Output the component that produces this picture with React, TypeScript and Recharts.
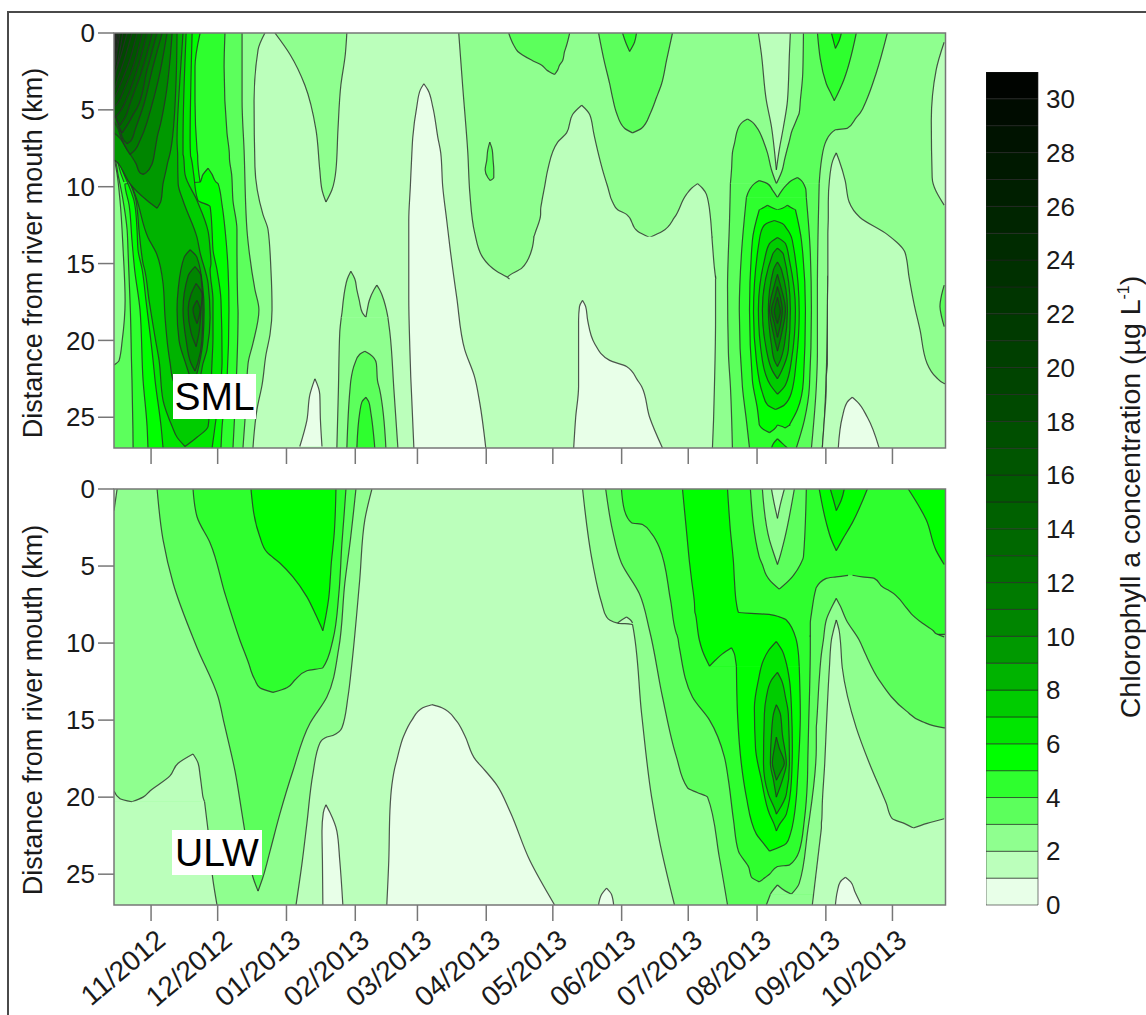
// App.tsx - chlorophyll a contour panels (SML / ULW) drawn as range areas
import React from 'react';
import { AreaChart, Area, BarChart, Bar, XAxis, YAxis, ReferenceArea } from 'recharts';

type Row = [number, number, number]; // km from river mouth, left day, right day
type Layer = [number, Row[]]; // chlorophyll band, outline rows

// colour of each 1 ug/L band, 0-1 first
const bandColors = [
  '#E8FFE8', '#BBFFBB', '#8FFF8F', '#5CFF5C', '#2EFF2E', '#00FF00', '#00E600', '#00CC00',
  '#00B300', '#009900', '#008500', '#007A00', '#007000', '#006800', '#006100', '#005B00',
  '#005500', '#004F00', '#004900', '#004400', '#003F00', '#003A00', '#003500', '#003000',
  '#002B00', '#002500', '#001F00', '#001900', '#001300', '#000C00', '#000400',
];

// days since 1 Nov 2012
const monthDays = [0, 30, 61, 92, 120, 151, 181, 212, 242, 273, 304, 334];
const monthLabels = ['11/2012', '12/2012', '01/2013', '02/2013', '03/2013', '04/2013', '05/2013', '06/2013', '07/2013', '08/2013', '09/2013', '10/2013'];
const kmTicks = [0, 5, 10, 15, 20, 25];
const scaleTicks = [0, 2, 4, 6, 8, 10, 12, 14, 16, 18, 20, 22, 24, 26, 28, 30];

const W = -30; // past the left edge
const E = 380; // past the right edge

const wholePanel: Row[] = [[0, W, E], [27, W, E]];

// ---- SML panel ----
const smlLeft2: Row[] = [[0, W, 51.3], [1.1, W, 48.2], [4.4, W, 46.4], [8.7, W, 46.8], [11.8, W, 50.4], [12.8, W, 52.7], [15.4, W, 54], [18, W, 54.5], [19.6, W, 53.6], [20.9, W, 51.8], [22.9, W, 50], [24.5, W, 47.7], [27, W, 45.9]];
const smlWedge2: Row[] = [[0, 55.8, 88.2], [1.4, 62.6, 87.5], [3.4, 69.3, 85.5], [6.3, 74.3, 84.2], [8.9, 76, 83.3], [10.2, 77, 81.5], [11, 78.8, 78.8]];
const smlLeft3: Row[] = [[0, W, 41], [4.4, W, 41], [7.6, W, 41.9], [12.8, W, 43.2], [14.1, W, 44.1], [16.7, W, 46.8], [18, W, 48.6], [20.2, W, 45.9], [21.5, W, 43.7], [25.2, W, 42.3], [27, W, 41.4]];
const smlPatch2: Row[] = [[8.1, W, -16.7], [9.2, W, -15.3], [10.9, W, -14], [14.1, W, -12.6], [17.4, W, -11.7], [20, W, -13], [21.3, W, -14.4], [21.6, W, -16.7]];
const smlLeft4: Row[] = [[0, W, 33.3], [2.2, W, 32.9], [6.5, W, 34.2], [8, W, 35.3], [8.1, -16.5, 35.3], [9.2, -14.9, 36.3], [10.9, -12.6, 36.9], [12.8, -10.8, 38.7], [14.1, -10.4, 38.7], [17.4, -9.5, 39], [18.2, -9.3, 39.2], [21.5, -8.8, 38.7], [22.6, -8.6, 38.4], [25.6, -8.2, 37.4], [27, -8.1, 36.9]];
const smlLeft5: Row[] = [[0, W, 22.1], [2.2, W, 19.8], [4.4, W, 19.8], [7.6, W, 20.7], [8, W, 21], [8.1, -16.2, 21], [9.2, -13.5, 21.6], [9.7, -12.2, 22.1]];
const smlLower5: Row[] = [[8.8, 25.7, 25.7], [9.2, 23.4, 27.5], [9.7, 22.1, 29.3], [9.8, -11.8, 30.2], [11.2, -9.9, 32], [13.5, -8.6, 33.8], [15.4, -7.4, 34.7], [18, -5, 35.1], [22.6, -3.6, 34.2], [25.6, -1.8, 32], [27, -1.4, 31.5]];
const smlLeft6: Row[] = [[0, W, 18.5], [7, W, 17.6], [8, W, 17.8], [8.1, -16, 18], [9.2, -12.2, 19.2], [10.7, -8.1, 20.7], [10.9, -7.7, 21.2], [11.3, -7.2, 26.6], [12.9, -6.3, 27.5], [14.1, -5.9, 27.9], [15.4, -4, 29.7], [17.4, -2.3, 31.5], [21.3, 0.9, 32], [22.6, 1.8, 31.5], [25.6, 4.5, 28.8], [27, 5.4, 27.5]];
const smlLeft7: Row[] = [[0, W, 15.8], [7, W, 14.4], [7.9, W, 14.4], [8, -15.8, 14.6], [9.2, -11.3, 15.3], [10.9, -6.8, 20.7], [12.9, -5.4, 25.7], [14.1, -4.5, 26.6], [15, -3.6, 27], [15.4, -2.9, 26.6], [17.4, -0.9, 27.9], [19.8, 1.8, 27.9], [21.3, 3.6, 27.5], [23.9, 5.4, 26.6], [25.6, 9.5, 25.7], [26.3, 11.7, 20.7], [26.9, 15.3, 15.3]];
const smlLeft8: Row[] = [[0, W, 14.4], [3, W, 13], [7, W, 11.7], [8, W, 12], [8.3, -14, 12], [9.8, -9, 12.2], [10.9, -6.3, 14.4], [13.3, -1.4, 20.7], [14.3, 2.3, 22.1], [16.3, 5.4, 25.7], [18.5, 6.3, 26.6], [20.6, 7.7, 25.2], [21.5, 8.6, 23.4], [22.6, 9.9, 21.6], [23.5, 17.6, 17.6]];
const smlLeft9: Row[] = [[0, W, 11.7], [3, W, 11.3], [7, W, 9.5], [8.1, W, 8.1], [8.3, -16.2, 7.7], [8.9, -13, 6.8], [9.8, -9.5, 5.4], [10.9, -1.8, 4.5], [11.4, 2.7, 2.7]];
const smlRing9: Row[] = [[14.1, 17.6, 17.6], [14.6, 14.9, 20.7], [16.7, 12.2, 23.4], [18, 11.7, 23.9], [20, 12.6, 23.4], [21.6, 15.8, 21.6], [23, 19, 19]];
const smlRing10: Row[] = [[15.2, 19.8, 19.8], [15.8, 16.7, 22.5], [18, 14.4, 23.4], [20, 15.8, 22.9], [21.5, 18, 21], [22, 19.8, 19.8]];
const smlRing11: Row[] = [[16.3, 20.3, 20.3], [17, 18, 23], [18, 16.7, 22.5], [19.5, 18, 21.6], [20.4, 20.3, 20.3]];
const smlRing12: Row[] = [[17.4, 20.7, 20.7], [18, 18.9, 22.1], [18.9, 20.7, 20.7]];
const smlCorner10: Row[] = [[0, W, 9.5], [4.4, W, 6.3], [6.3, W, 3.6], [6.5, -16.7, 3.2], [7.6, -10.8, 1.8], [8.5, -6.8, 0.5], [9.1, -5, -2.3], [9.2, -3.6, -3.6]];
const smlCorner11: Row[] = [[0, W, 7.2], [3.1, W, 3.2], [5.6, W, -1.4], [5.8, -16.7, -1.8], [7, -13, -5], [7.6, -10.8, -7.2], [7.9, -9.5, -9.5]];
const smlCorner12: Row[] = [[0, W, 5], [2.4, W, 0.5], [5, W, -4], [5.2, -16.7, -4.5], [6.3, -14, -7.2], [7, -12.2, -9], [7.2, -10.8, -10.8]];
const smlCorner13: Row[] = [[0, W, 2.7], [2.4, W, -1.8], [4.9, W, -6.3], [5, -16.7, -6.8], [5.8, -15.3, -9.9], [6.5, -13, -13]];
const smlCorner14: Row[] = [[0, W, 0.5], [2.4, W, -4], [4.4, W, -9], [4.6, -16.7, -9.5], [5.5, -15.8, -11.7], [6, -14, -14]];
const smlCorner15: Row[] = [[0, W, -1.8], [2.4, W, -6.3], [4.2, W, -10.8], [5, W, -13.5], [5.5, W, -16.7], [5.6, W, W]];
const smlCorner16: Row[] = [[0, W, -4], [2.4, W, -8.6], [3.7, W, -12.2], [4.4, W, -14.4], [4.8, W, -16.7], [4.9, W, W]];
const smlCorner17: Row[] = [[0, W, -6.3], [2.1, W, -10.4], [3.4, W, -14], [4, W, -15.8], [4.2, W, -16.7], [4.3, W, W]];
const smlCorner18: Row[] = [[0, W, -8.6], [1.8, W, -12.2], [3.1, W, -15.3], [3.7, W, -16.7], [3.8, W, W]];
const smlCorner19: Row[] = [[0, W, -10.8], [1.4, W, -13.5], [2.5, W, -15.8], [3.1, W, -16.7], [3.2, W, W]];
const smlCorner20: Row[] = [[0, W, -12.8], [1.4, W, -14.4], [2.7, W, -16.7], [2.8, W, W]];
const smlCorner21: Row[] = [[0, W, -14], [1.2, W, -15.3], [2.4, W, -16.7], [2.5, W, W]];
const smlCorner22: Row[] = [[0, W, -14.7], [1.1, W, -15.6], [2.1, W, -16.7], [2.2, W, W]];
const smlCorner23: Row[] = [[0, W, -15.3], [0.9, W, -16], [1.8, W, -16.7], [1.9, W, W]];
const smlCorner24: Row[] = [[0, W, -15.8], [0.7, W, -16.2], [1.4, W, -16.7], [1.5, W, W]];
const smlCorner25: Row[] = [[0, W, -16], [0.6, W, -16.4], [1.1, W, -16.7], [1.2, W, W]];
const smlCorner26: Row[] = [[0, W, -16.2], [0.8, W, -16.7], [0.9, W, W]];
const smlCorner27: Row[] = [[0, W, -16.4], [0.5, W, -16.7], [0.6, W, W]];
const smlCorner28: Row[] = [[0, W, -16.5], [0.3, W, -16.7], [0.4, W, W]];

const smlJan0: Row[] = [[22.5, 73.8, 73.8], [23.5, 71.6, 76], [25.2, 70.2, 76.3], [26.9, 67, 77]];
const smlFebLobeA: Row[] = [[15.5, 90, 90], [16, 88.4, 91.8], [16.7, 87.3, 92.7], [17.4, 86.6, 93.8], [18.2, 86, 95.2], [18.5, 85.7, 96.8]];
const smlFebLobeB: Row[] = [[16.4, 101.7, 101.7], [16.7, 100.4, 103], [17.4, 98.3, 104.9], [18, 97.4, 106], [18.5, 96.8, 106.7]];
const smlFebMain: Row[] = [[18.5, 85.7, 106.7], [19.5, 85, 107.6], [23.2, 84.4, 109.4], [27, 83.7, 111.2]];
const smlFeb3: Row[] = [[20.7, 96.3, 96.3], [20.9, 94, 98.6], [21.5, 91.8, 101.5], [22.6, 90, 102], [23.2, 89.6, 103], [27, 88.2, 105.8]];
const smlFeb4: Row[] = [[23.7, 96.8, 96.8], [24, 95, 98.1], [24.7, 94, 99], [27, 92.7, 100.8]];
const smlMar0: Row[] = [[3.3, 122.9, 122.9], [3.7, 121.3, 124.7], [4.8, 119.7, 126.9], [6.8, 117.9, 129.2], [7.8, 117.5, 130.5], [10, 116.8, 131.4], [12.2, 116.1, 133.2], [13.9, 116.1, 134.6], [17.2, 116.1, 137.7], [20.6, 116.6, 141.3], [22.4, 117, 145.8], [24, 117.5, 148], [27, 118.4, 150.8]];
const smlJun0: Row[] = [[17.4, 194.4, 194.4], [17.8, 193, 195.8], [18.7, 192.6, 196.7], [20.2, 192.6, 199.8], [21.3, 192.6, 206.6], [21.7, 192.6, 214.2], [22.6, 192.6, 219.2], [23, 192.6, 221], [25, 191.3, 224.6], [27, 190.4, 230.4]];
const smlBig2: Row[] = [[0, 138.6, E], [3.5, 140.4, E], [7.8, 142.7, E], [10.4, 143.6, E], [13, 145.8, E], [14.6, 149.4, E], [15.5, 155.7, E], [15.9, 160.7, E]];
const smlLens3: Row[] = [[7.1, 152.6, 152.6], [7.6, 151.7, 153.7], [8.3, 151.2, 154.1], [8.9, 150.5, 154.4], [9.4, 151.7, 154.4], [9.6, 152.8, 152.8]];
const smlApr3: Row[] = [[0, 161.1, 188.6], [0.8, 163.4, 187.2], [1.2, 165.2, 186.3], [1.8, 171.9, 185.4], [2.1, 176, 184], [2.4, 178.2, 183.2], [2.7, 181.8, 181.8]];
const smlJun3: Row[] = [[0, 201.6, 234.9], [1.8, 204.1, 232.2], [3.3, 206.6, 230], [4.2, 207.9, 227.7], [5.2, 209.7, 225], [6.2, 213.3, 221], [6.5, 216.9, 216.9]];
const smlJun4: Row[] = [[0, 212.4, 218.7], [0.6, 213.8, 217.8], [1.2, 215.6, 215.6]];
const smlPeakA1: Row[] = [[4.7, 194, 194], [5.3, 189.9, 197.6], [6.5, 187.2, 199.4], [7.1, 183.2, 200.3], [8.9, 178.7, 203.4], [10, 177.3, 205.7], [11, 176, 207.9], [11.5, 175.5, 210.2], [11.8, 175.5, 214.2], [12.9, 173.3, 219.2], [13.3, 172.4, 224.6]];
const smlPeakB1: Row[] = [[9.8, 246.2, 246.2], [10.1, 243.5, 248.4], [10.5, 241.2, 250.2], [12, 235.8, 252], [12.9, 230.4, 252.5], [13.3, 224.6, 252.7]];
const smlValley1: Row[] = [[13.25, 172.5, 252.65], [14.1, 171.5, 253.1], [15.3, 167, 253.8], [15.9, 160.7, 254.3], [16, 161.5, 254.4]];
const smlColumn2: Row[] = [[15.8, 254.3, 304.9], [18.7, 254.3, 304.7], [23, 253.8, 304], [25.2, 253.4, 303.3], [27, 252.9, 302.4]];
const smlRightFill2: Row[] = [[15.8, 310, E], [22.9, 310, E]];
const smlRightPeak1: Row[] = [[7.8, 308.7, 308.7], [8.3, 307.1, 310], [9.6, 305.6, 312.7], [11, 305.1, 314.5], [12, 305.1, 319.4], [13.1, 304.9, 331.6], [14.3, 304.9, 339.7], [15.9, 304.9, 341.5], [17.6, 304.7, 343.7], [19.3, 304.7, 346.4], [21.5, 304.7, 349.6], [22.4, 304.2, 353.7], [22.8, 304.2, 357.3], [23, 304.2, E], [25.2, 303.3, E], [27, 302.4, E]];
const smlSep0: Row[] = [[23.7, 315.9, 315.9], [24, 313.7, 318.2], [25, 311.4, 322.7], [27, 309.6, 328]];
const smlAugLobe3: Row[] = [[5.6, 268.7, 268.7], [5.8, 266.4, 270.9], [6.1, 264.8, 272.7], [7.2, 262.8, 276.3], [7.8, 261.9, 277.7], [8.9, 261.5, 279.5], [9.8, 261, 281.7]];
const smlStrand3: Row[] = [[0, 293.9, 331.7], [2.6, 293.6, 326.7], [4.4, 292.5, 322.2], [5.2, 292, 319.5], [5.5, 291.2, 317.7], [6.2, 289.2, 313.7], [6.3, 288.9, 308.3], [7, 287.6, 304.2], [8.3, 285.3, 302], [8.9, 284.4, 301.5], [9.8, 281.7, 301]];
const smlAugMain3: Row[] = [[9.8, 261, 301], [12.2, 260.6, 300.6], [16.5, 259.7, 300.2], [20.8, 260.1, 300.2], [23, 261, 299.7], [27, 261.9, 297.5]];
const smlNotch1: Row[] = [[0, 273.6, 288], [1.3, 274.9, 287.6], [4.4, 277.2, 286.7], [6.1, 279.5, 284.9], [7.6, 280.8, 283], [8.9, 281.7, 281.7]];
const smlAugLobeA4: Row[] = [[9.6, 274, 274], [9.8, 271.8, 277.7], [10.2, 269.6, 279.9], [10.7, 268.2, 282.2]];
const smlAugLobeB4: Row[] = [[9.4, 291.2, 291.2], [9.6, 288.5, 293], [9.9, 286.2, 294.3], [10.2, 284.4, 295], [10.7, 282.2, 295.2]];
const smlAugMain4: Row[] = [[10.7, 268.2, 295.2], [14.3, 266, 297], [18, 265, 297.5], [23, 266.4, 296.6], [25.2, 268.2, 294.3], [27, 269.6, 290.7]];
const smlTop4: Row[] = [[0, 300.2, 317.7], [3.3, 304.2, 311.4], [4, 306.5, 309.2], [4.4, 307.8, 307.8]];
const smlTop5: Row[] = [[0, 306.5, 311], [0.5, 307.4, 310], [1, 308.3, 308.3]];
const smlAugLobeA5: Row[] = [[11.2, 277.7, 277.7], [11.4, 275.4, 280.4], [11.5, 274, 282.2]];
const smlAugLobeB5: Row[] = [[11.2, 286.7, 286.7], [11.4, 284.4, 288.9], [11.5, 282.2, 290.3]];
const smlAugMain5: Row[] = [[11.5, 274, 290.3], [13.5, 270.9, 293], [18, 269.6, 294.8], [22.6, 270.9, 293.9], [24.5, 273.2, 291.2], [25.5, 274, 287.6]];
const smlAugFootA5: Row[] = [[25.5, 274, 282.2], [25.8, 275.9, 280.6], [26, 278.6, 278.6]];
const smlAugFootB5: Row[] = [[25.5, 282.2, 288], [25.6, 284.4, 286.7], [25.7, 285.5, 285.5]];
const smlAugLens5: Row[] = [[26.4, 282.2, 282.2], [26.7, 280.4, 284.4], [27, 279.5, 286.7]];
const smlAug6: Row[] = [[12.2, 280.8, 280.8], [12.4, 277.2, 284.4], [12.7, 275.4, 286.2], [13.5, 274, 288.9], [18.2, 271.4, 292], [21.3, 272.7, 290.7], [23.4, 275.4, 288.5], [24.2, 277.7, 285.3], [24.5, 281.3, 281.3]];
const smlAug7: Row[] = [[13.3, 282.2, 282.2], [13.7, 278.6, 285.8], [14.8, 276.3, 287.6], [18, 273.6, 290.3], [21.3, 275.4, 288.5], [22.9, 279, 285.8], [23.5, 282.2, 282.2]];
const smlAug8: Row[] = [[14, 282.2, 282.2], [14.4, 280, 284.9], [18, 275.4, 288], [20.6, 277.2, 287.1], [22, 280, 284], [22.5, 282.2, 282.2]];
const smlAug9: Row[] = [[14.9, 282.2, 282.2], [15.4, 280.4, 284], [18, 278.1, 286.7], [20.3, 279.5, 285.3], [21.3, 280.8, 283.5], [21.7, 282.2, 282.2]];
const smlAug10: Row[] = [[15.7, 282.2, 282.2], [16.4, 280.8, 283.5], [18, 278.6, 285.8], [19.6, 280.4, 284], [20.7, 282.2, 282.2]];
const smlAug11: Row[] = [[16.5, 282.2, 282.2], [17.2, 281, 283.5], [18, 279.5, 284.4], [19, 281, 283.5], [19.8, 282.2, 282.2]];
const smlAug12: Row[] = [[17.2, 282.2, 282.2], [17.7, 281.3, 283], [18.1, 280.8, 283.5], [18.5, 281.3, 283], [18.9, 282.2, 282.2]];
const smlEdge1: Row[] = [[0.6, 357.3, E], [2.4, 353.7, E], [5.7, 351.5, E], [9.4, 351.9, E], [11.2, 357.3, E]];
const smlEdge3: Row[] = [[16.4, 357.3, E], [17, 356.2, E], [17.8, 355.4, E], [18.5, 356.2, E], [19.1, 357.3, E]];

const smlLayers: Layer[] = [
  [1, wholePanel],
  [2, smlLeft2], [2, smlWedge2], [3, smlLeft3], [2, smlPatch2], [4, smlLeft4], [5, smlLeft5], [5, smlLower5],
  [6, smlLeft6], [7, smlLeft7], [8, smlLeft8], [9, smlLeft9], [9, smlRing9], [10, smlRing10], [11, smlRing11], [12, smlRing12],
  [10, smlCorner10], [11, smlCorner11], [12, smlCorner12], [13, smlCorner13], [14, smlCorner14], [15, smlCorner15],
  [16, smlCorner16], [17, smlCorner17], [18, smlCorner18], [19, smlCorner19], [20, smlCorner20], [21, smlCorner21],
  [22, smlCorner22], [23, smlCorner23], [24, smlCorner24], [25, smlCorner25], [26, smlCorner26], [27, smlCorner27], [28, smlCorner28],
  [0, smlJan0], [2, smlFebLobeA], [2, smlFebLobeB], [2, smlFebMain], [3, smlFeb3], [4, smlFeb4], [0, smlMar0], [0, smlJun0],
  [2, smlBig2], [2, smlRightFill2], [2, smlColumn2], [1, smlPeakA1], [1, smlPeakB1], [1, smlValley1], [1, smlRightPeak1],
  [0, smlSep0], [3, smlLens3], [3, smlApr3], [3, smlJun3], [4, smlJun4],
  [3, smlAugLobe3], [3, smlStrand3], [3, smlAugMain3], [1, smlNotch1], [4, smlAugLobeA4], [4, smlAugLobeB4], [4, smlAugMain4],
  [4, smlTop4], [5, smlTop5], [5, smlAugLobeA5], [5, smlAugLobeB5], [5, smlAugMain5], [5, smlAugFootA5], [5, smlAugFootB5], [5, smlAugLens5],
  [6, smlAug6], [7, smlAug7], [8, smlAug8], [9, smlAug9], [10, smlAug10], [11, smlAug11], [12, smlAug12], [1, smlEdge1], [3, smlEdge3],
];

// ---- ULW panel ----
const ulwLeft2: Row[] = [[0, W, 99.5], [2, W, 96.3], [5.9, W, 94], [11.3, W, 90.5], [13.5, W, 88.7], [15.5, W, 86], [16, W, 81.9], [16.1, W, 79.2], [16.5, W, 76], [18.5, W, 72.9], [21.7, W, 70.2], [24.3, W, 68], [27, W, 65.3]];
const ulwCorner1: Row[] = [[17.2, 18.9, 18.9], [17.8, 12.2, 21.2], [18.6, 8.6, 22.1], [19.6, -0.5, 23], [20, -3.6, 23.4], [20.3, -8.6, 24.1]];
const ulwCornerLow1: Row[] = [[20.3, W, 24.1], [22.2, W, 25.7], [25.4, W, 27.9], [27, W, 29.7]];
const ulwCornerWedge1: Row[] = [[19.6, W, -16.7], [20.1, W, -14], [20.3, W, -8.6]];
const ulwTopWedge1: Row[] = [[0, W, -15.3], [1.4, W, -16.7]];
const ulwLeft3: Row[] = [[0, 2.7, 92.3], [3.3, 5.4, 89.8], [6.1, 9.9, 87.3], [10.3, 20.7, 84.6], [13.5, 30.2, 79.2], [15.2, 32.9, 71.6], [18.3, 37.8, 63.9], [21.1, 41, 58], [23.5, 43.7, 53.6], [25.2, 45.9, 50.4], [26.1, 48.2, 48.2]];
const ulwLeft4: Row[] = [[0, 18.9, 87.8], [1.8, 20.7, 86.9], [3.5, 26.6, 86], [6.8, 33.3, 84.6], [9.8, 40, 81.9], [11.6, 44.6, 77.4], [11.8, 45, 70.2], [12.4, 46.8, 64.8], [12.9, 49, 61.2], [13.2, 54.9, 54.9]];
const ulwLeft5: Row[] = [[0, 45, 83.3], [3.1, 49, 82.4], [4.1, 52.2, 81.7], [4.8, 58, 81.2], [5.7, 63.9, 80.8], [7, 70.2, 80.1], [8.2, 74.3, 78.8], [9.2, 77.4, 77.4]];
const ulwJan0: Row[] = [[20.5, 78.8, 78.8], [21, 77.6, 80.6], [22.2, 77, 83.7], [24.1, 77.2, 85], [27, 77.4, 86.4]];
const ulwMar0: Row[] = [[14, 126.5, 126.5], [14.2, 122.4, 131], [15, 117.5, 137.3], [16, 113.9, 141.3], [17.6, 110.7, 146.3], [18.1, 109.8, 149.4], [19.2, 108.5, 155.7], [20.9, 107.6, 161.6], [24.1, 107.1, 170.6], [27, 106.2, 181.8]];
const ulwJun0: Row[] = [[25.9, 205.2, 205.2], [26.3, 203, 207.4], [27, 201.6, 208.4]];
const ulwSep0: Row[] = [[25.2, 312.8, 312.8], [25.5, 310.5, 315.2], [26.1, 309.2, 317], [27, 308.3, 320]];
const ulwRight2: Row[] = [[0, 194.4, E], [4.8, 198.9, E], [7.4, 203, E], [8.3, 205.2, E], [8.5, 206.6, E], [8.7, 210.2, E], [8.8, 216.9, E], [14.6, 221, E], [20, 225.5, E], [22.8, 229, E], [27, 235.8, E]];
const ulwNub1: Row[] = [[8.3, 214.2, 214.2], [8.5, 212, 216], [8.7, 210.2, 216.9]];
const ulwRight3: Row[] = [[0, 204.8, E], [2.7, 207.9, E], [4.8, 211.9, E], [6.8, 220, E], [9.2, 224.6, E], [13.5, 230.4, E], [17.4, 236.7, E], [19.4, 241.7, E], [19.7, 246, E], [20, 250.7, E], [23.9, 256, E], [27, 259.7, E]];
const ulwPeak2: Row[] = [[7.1, 308.7, 308.7], [7.6, 306.9, 310.5], [8.5, 304.2, 313.2], [9.8, 302.9, 319], [10.7, 302, 321.8], [12.4, 301, 328], [14.4, 300.2, 340.2], [15.1, 299.9, 347.4], [15.5, 299.7, 357.3], [15.6, 299.7, E], [16.8, 299.7, E], [22.2, 295.8, E], [25.6, 292, E], [26.3, 288.5, E]];
const ulwPeakNub2: Row[] = [[25.7, 282.2, 282.2], [26.1, 279.9, 285.8], [26.3, 279, 288.5]];
const ulwPeakBase2: Row[] = [[26.3, 279, E], [27, 277.2, E]];
const ulwRight4: Row[] = [[0, 211.9, E], [1.4, 213.3, E], [2.2, 216.5, E], [2.3, 221.4, E], [2.9, 225.5, E], [3.8, 229, E], [7.2, 234, E], [9.4, 236.7, E], [9.5, 237, 297], [10.3, 238, 297], [13.5, 243.9, 296.6], [15, 251.6, 296.3], [17.4, 258.3, 295.9], [18.9, 260.1, 295.7], [21.5, 262.4, 294.3], [23.5, 264.6, 292], [24.4, 268.7, 287.6], [24.5, 269.1, 282.2], [25, 270, 278.6], [25.2, 270.5, 276.8], [25.5, 274, 274]];
const ulwShelf3: Row[] = [[5.6, 314, 316], [5.7, 308.7, 320.4], [5.8, 304.2, 325.8], [6.4, 299.7, 329.9], [6.6, 299.3, 332.6], [7.7, 297.9, 340.2], [8.1, 297.5, 342.5], [8.7, 297, 347.4], [9.2, 297, 352.4], [9.4, 297, 353.7], [9.6, 297, 357.3]];
const ulwMain5: Row[] = [[0, 239.4, 259.7], [2.7, 241.2, 261], [4.8, 242.6, 262.4], [5.9, 243.5, 262.8], [7.4, 244.8, 263.7], [8, 245, 264.6], [8.15, 245.3, 279], [8.3, 245.5, 283], [8.5, 245.7, 286.2], [9.8, 247, 290.7], [10.5, 248.4, 291.5], [11.5, 251.6, 292]];
const ulwNotch4: Row[] = [[10.3, 261.5, 261.5], [10.7, 257.4, 262.8], [11.1, 254.3, 263.3], [11.5, 251.6, 263.7]];
const ulwLower5: Row[] = [[11.5, 263.7, 292], [14.6, 264.2, 292.5], [18.9, 266.9, 291.2], [20, 268.2, 290.7], [22.4, 272.7, 288], [23, 275.9, 286.2], [23.5, 278.6, 278.6]];
const ulwAug6: Row[] = [[9.9, 281.7, 281.7], [10.5, 278.1, 284.4], [11.1, 275.9, 285.8], [12.4, 273.6, 287.6], [14.2, 271.8, 288.5], [16.8, 272.3, 288.9], [18.9, 275, 288.5], [21.1, 278.6, 286.2], [21.8, 280.8, 283], [22.2, 281.7, 281.7]];
const ulwAug7: Row[] = [[11.9, 282.2, 282.2], [12.4, 279.5, 284], [13.5, 277.2, 285.8], [14.6, 276.3, 287.1], [17.8, 275.9, 287.6], [19.8, 278.1, 286.2], [20.9, 281.3, 282.6], [21.1, 281.7, 281.7]];
const ulwAug8: Row[] = [[14, 281.7, 281.7], [14.6, 280.4, 283.5], [15.9, 279.5, 284.4], [17.8, 279, 286.2], [18.9, 280.4, 284.4], [20, 281.7, 281.7]];
const ulwAug9: Row[] = [[16.1, 281.7, 281.7], [16.8, 280.8, 283], [17.8, 279.9, 285.3], [18.4, 280.8, 283.5], [18.9, 281.7, 281.7]];
const ulwHole3: Row[] = [[0, 270, 295.2], [4.4, 274, 293.9], [4.9, 275.4, 292.5], [5.6, 277.2, 289.4], [5.9, 278.6, 287.6], [6.5, 283, 283]];
const ulwHole2: Row[] = [[0, 275.4, 289.8], [3.3, 278.6, 285.3], [4.3, 280.8, 283.5], [4.9, 282.2, 282.2]];
const ulwHole1: Row[] = [[0, 279.5, 285.3], [1, 280.8, 283.5], [1.9, 282.2, 282.2]];
const ulwTop5: Row[] = [[0, 301, 322.7], [2.2, 304.2, 315.9], [3.3, 306.5, 311.4], [4, 308.7, 308.7]];
const ulwTop6: Row[] = [[0, 306, 312.3], [0.7, 307.4, 311], [1.4, 308.7, 308.7]];
const ulwCorner5: Row[] = [[0, 341.1, E], [2, 349.2, E], [4, 353.7, E], [4.9, 357.3, E]];
const ulwPeak1: Row[] = [[8.5, 308.7, 308.7], [9.2, 307.4, 310], [9.8, 306.5, 310.5], [11.6, 305.6, 311.4], [15.5, 304.2, 317.7], [17.8, 303.5, 323.6], [20.4, 302.4, 331.2], [21.4, 302.2, 333.9], [21.7, 302, 339.3], [22, 302, 343.4]];
const ulwPeakLow1: Row[] = [[22, 302, E], [27, 297.9, E]];
const ulwPeakWedge1: Row[] = [[21.4, 357.3, E], [21.7, 349.6, E], [22, 343.4, E]];

const ulwLayers: Layer[] = [
  [1, wholePanel],
  [2, ulwLeft2], [1, ulwCorner1], [1, ulwCornerLow1], [1, ulwCornerWedge1], [1, ulwTopWedge1], [3, ulwLeft3], [4, ulwLeft4], [5, ulwLeft5],
  [0, ulwJan0], [0, ulwMar0], [2, ulwRight2], [1, ulwNub1], [3, ulwRight3], [4, ulwRight4], [3, ulwShelf3],
  [2, ulwPeak2], [2, ulwPeakNub2], [2, ulwPeakBase2],
  [5, ulwMain5], [4, ulwNotch4], [5, ulwLower5], [6, ulwAug6], [7, ulwAug7], [8, ulwAug8], [9, ulwAug9],
  [3, ulwHole3], [2, ulwHole2], [1, ulwHole1], [5, ulwTop5], [6, ulwTop6], [5, ulwCorner5],
  [1, ulwPeak1], [1, ulwPeakLow1], [1, ulwPeakWedge1], [0, ulwJun0], [0, ulwSep0],
];

const font = '"Liberation Sans", Arial, sans-serif';
const axisGrey = '#777777';
const textBlack = '#1a1a1a';

const MonthTick = (props: any) => {
  const { x, y, payload } = props;
  const label = monthLabels[monthDays.indexOf(payload.value)];
  return (
    <text
      transform={`rotate(-40 ${x + 16} ${y + 20})`}
      x={x + 16}
      y={y + 20}
      textAnchor="end"
      fontSize={28}
      fontFamily={font}
      fill={textBlack}
    >
      {label}
    </text>
  );
};

const EmptyTick = () => <g />;

interface PanelProps {
  layers: Layer[];
  top: number;
  plotHeight: number;
  bottom: number;
  showMonths: boolean;
}

const ContourPanel = ({ layers, top, plotHeight, bottom, showMonths }: PanelProps) => (
  <div style={{ position: 'absolute', left: 0, top }}>
    <AreaChart
      layout="vertical"
      width={1000}
      height={33 + plotHeight + bottom}
      margin={{ top: 33, right: 54.5, bottom: 0, left: 0 }}
    >
      <XAxis
        type="number"
        dataKey="day"
        domain={[-16.7, 357.9]}
        ticks={monthDays}
        allowDataOverflow
        height={bottom}
        interval={0}
        axisLine={false}
        tickSize={16}
        tickLine={{ stroke: axisGrey, strokeWidth: 1.5 }}
        tick={showMonths ? <MonthTick /> : <EmptyTick />}
      />
      <YAxis
        type="number"
        dataKey="km"
        domain={[0, 27]}
        ticks={kmTicks}
        allowDataOverflow
        width={114}
        interval={0}
        axisLine={false}
        tickSize={16}
        tickMargin={3}
        tickLine={{ stroke: axisGrey, strokeWidth: 1.5 }}
        tick={{ fontSize: 26, fontFamily: font, fill: textBlack }}
      />
      {layers.map(([band, rows], i) => (
        <Area
          key={i}
          data={rows.map(([km, lo, hi]) => ({ km, span: [lo, hi] }))}
          dataKey="span"
          type="monotone"
          fill={bandColors[band]}
          fillOpacity={1}
          stroke="#2b2b2b"
          strokeOpacity={0.8}
          strokeWidth={1.2}
          dot={false}
          activeDot={false}
          legendType="none"
          isAnimationActive={false}
        />
      ))}
      <ReferenceArea x1={-16.7} x2={357.9} y1={0} y2={27} fill="none" stroke={axisGrey} strokeWidth={1.5} ifOverflow="extendDomain" />
    </AreaChart>
  </div>
);

const scaleRow = [Object.fromEntries([['name', 'scale'], ...bandColors.map((_, i) => [`b${i}`, 1])])];

const ColorScale = () => (
  <div style={{ position: 'absolute', left: 986, top: 72 }}>
    <BarChart width={120} height={854} data={scaleRow} barCategoryGap={0} margin={{ top: 0, right: 0, bottom: 21, left: 0 }}>
      <XAxis dataKey="name" hide />
      <YAxis
        orientation="right"
        type="number"
        domain={[0, 31]}
        ticks={scaleTicks}
        interval={0}
        width={68}
        axisLine={false}
        tickLine={false}
        tickSize={0}
        tickMargin={8}
        tick={{ fontSize: 26, fontFamily: font, fill: textBlack, textAnchor: 'start' }}
      />
      {bandColors.map((c, i) => (
        <Bar key={i} dataKey={`b${i}`} stackId="scale" fill={c} stroke="#222222" strokeOpacity={0.6} strokeWidth={1} isAnimationActive={false} />
      ))}
    </BarChart>
  </div>
);

const rotatedTitle = (cx: number, cy: number, size: number): React.CSSProperties => ({
  position: 'absolute',
  left: cx,
  top: cy,
  transform: 'translate(-50%, -50%) rotate(-90deg)',
  whiteSpace: 'nowrap',
  fontFamily: font,
  fontSize: size,
  color: textBlack,
});

const panelTag = (left: number, top: number, width: number, height: number): React.CSSProperties => ({
  position: 'absolute',
  left,
  top,
  width,
  height,
  background: '#ffffff',
  fontFamily: font,
  fontSize: 39,
  lineHeight: `${height}px`,
  textAlign: 'center',
  color: '#000000',
});

export default function App() {
  return (
    <div style={{ position: 'absolute', left: 0, top: 0, width: 1146, height: 1015, overflow: 'hidden', background: '#ffffff' }}>
      <div style={{ position: 'absolute', left: 7, top: 11, width: 1300, height: 1200, border: '2px solid #4a4a4a' }} />
      <ContourPanel layers={smlLayers} top={0} plotHeight={415} bottom={32} showMonths={false} />
      <ContourPanel layers={ulwLayers} top={456} plotHeight={416} bottom={110} showMonths />
      <ColorScale />
      <div style={rotatedTitle(33, 253, 27)}>Distance from river mouth (km)</div>
      <div style={rotatedTitle(33, 710, 27)}>Distance from river mouth (km)</div>
      <div style={rotatedTitle(1130, 497, 28.5)}>
        Chlorophyll a concentration (µg L<sup style={{ fontSize: 16, lineHeight: 0 }}>-1</sup>)
      </div>
      <div style={panelTag(173, 374, 83, 45)}>SML</div>
      <div style={panelTag(172, 830, 90, 45)}>ULW</div>
    </div>
  );
}
